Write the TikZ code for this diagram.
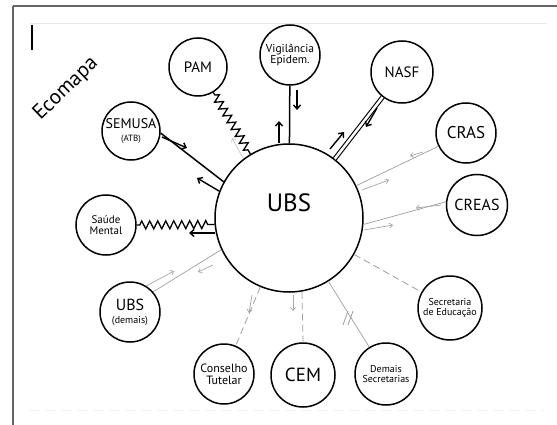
\documentclass[tikz,border=0pt]{standalone}
\usepackage{fontspec}
\setmainfont{PT Sans}
\usetikzlibrary{arrows.meta,decorations.pathmorphing,calc}
\newcommand{\fs}[1]{\fontsize{#1}{#1}\selectfont}
\begin{document}
\begin{tikzpicture}[x=1pt,y=-1pt,
  ent/.style={circle,draw,line width=1.5pt,inner sep=0pt,align=center},
  strong/.style={line width=1.5pt},
  zz/.style={line width=1.3pt,decorate,decoration={zigzag,segment length=8pt,amplitude=4pt,pre length=3pt,post length=3pt}},
  weak/.style={draw=gray!75,line width=0.7pt},
  dsh/.style={draw=gray!75,line width=0.8pt,dash pattern=on 7pt off 4pt},
  tarr/.style={line width=1.4pt,-{Straight Barb[length=4pt,width=7pt]}},
  garr/.style={draw=gray!70,line width=0.7pt,-{Straight Barb[length=3pt,width=5pt]}},
  farr/.style={draw=gray!45,line width=0.7pt,-{Straight Barb[length=3pt,width=5pt]}}
]
\useasboundingbox (0,0) rectangle (557,425);
\fill[white] (0,0) rectangle (557,425);
% frame
\draw[gray!80!black,line width=1.5pt] (13,6) -- (557,6);
\draw[gray!80!black,line width=1.5pt] (13,6) -- (13,425);
\draw[gray!18,line width=1pt] (30,24) -- (547,24);
\draw[gray!12,line width=0.8pt,dash pattern=on 10pt off 6pt] (30,410) -- (545,410);
\draw[line width=2.5pt] (32,25) -- (32,50);

\node[rotate=44,font=\fs{21}] (eco) at (66,89) {Ecomapa};

% nodes
\node[ent,minimum size=148pt] (ubs) at (289,218) {};
\node[font=\fs{25}] (ubstext) at (289,203) {UBS};
\node[ent,minimum size=58pt,font=\fs{15}] (pam) at (198,67) {PAM};
\node[ent,minimum size=60pt,font=\fs{11.5}] (vig) at (290,55) {Vigilância\\Epidem.};
\node[ent,minimum size=62pt,font=\fs{15}] (nasf) at (402,72) {NASF};
\node[ent,minimum size=60pt,font=\fs{17}] (cras) at (466,133) {CRAS};
\node[ent,minimum size=61pt,font=\fs{16}] (creas) at (477,205) {CREAS};
\node[ent,minimum size=64pt,font=\fs{10}] (sec) at (450,308) {Secretaria\\de Educação};
\node[ent,minimum size=62pt,font=\fs{10}] (dem) at (386,374) {Demais\\Secretarias};
\node[ent,minimum size=64pt,font=\fs{19}] (cem) at (303,375) {CEM};
\node[ent,minimum size=60pt,font=\fs{12}] (cons) at (224,374) {Conselho\\Tutelar};
\node[ent,minimum size=60pt] (ubsd) at (130,312) {{\fs{16}UBS}\\[1pt]{\fs{10}(demais)}};
\node[ent,minimum size=60pt,font=\fs{11}] (sm) at (106,225) {Saúde\\Mental};
\node[ent,minimum size=58pt] (semusa) at (131,131) {{\fs{14}SEMUSA}\\[1pt]{\fs{9}(ATB)}};

% PAM - conflict
\draw[zz] (pam) -- (ubs);
\draw[farr] (243,158) -- (232,138);

% Vigilancia
\draw[strong] (vig) -- (ubs);
\draw[tarr] (297,90) -- (297,110);
\draw[tarr] (279,143) -- (279,121);

% NASF - strong double
\draw[line width=1.1pt,double,double distance=2.5pt] (nasf) -- (ubs);
\draw[tarr] (377,108) -- (366,127);
\draw[tarr] (330,149) -- (344,132);

% CRAS
\draw[weak] (cras) -- (ubs);
\draw[garr] (423,152) -- (410,156);
\draw[garr] (362,190) -- (389,180);

% CREAS
\draw[weak] (ubs.-5) -- (creas.174);
\draw[garr] (441,205) -- (416,208);
\draw[garr] (364,230) -- (393,225);

% Secretaria de Educacao
\draw[dsh] (ubs) -- (sec);

% Demais Secretarias
\draw[weak] (ubs) -- (dem);
\draw[gray!75,line width=0.8pt] (343,325) -- (348,311);
\draw[gray!75,line width=0.8pt] (348,325) -- (353,311);

% CEM
\draw[dsh] (ubs.-80) -- (cem.north);
\draw[garr] (293,295) -- (293,311);

% Conselho Tutelar
\draw[dsh] (ubs) -- (cons);
\draw[garr] (252,295) -- (249,313);

% UBS (demais)
\draw[weak] (ubs.205) -- (ubsd.41);
\draw[garr] (ubsd.58) -- (174,271);
\draw[garr] (213,265) -- (198,272);

% Saude Mental - conflict
\draw[zz] (sm.east) -- (ubs.185);
\draw[tarr] (215,233) -- (189,233);

% SEMUSA
\draw[strong] (semusa.-4) -- (ubs.151);
\draw[tarr] (162,137) -- (187,148);
\draw[tarr] (219,191) -- (197,178);
\end{tikzpicture}
\end{document}
